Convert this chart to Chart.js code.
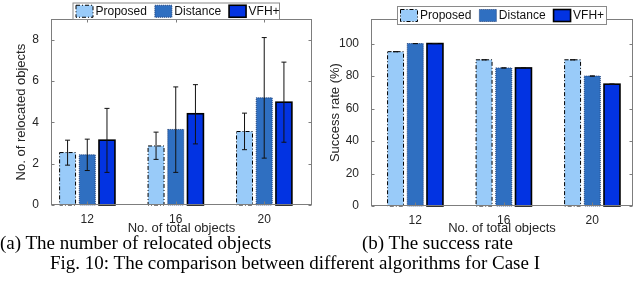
<!DOCTYPE html>
<html>
<head>
<meta charset="utf-8">
<script src="https://cdn.jsdelivr.net/npm/chart.js@4.4.1/dist/chart.umd.min.js"></script>
<style>
  body { margin: 0; background: #fff; width: 638px; height: 290px; overflow: hidden; position: relative; }
  .panel { position: absolute; top: 0; }
  .cap { position: absolute; font-family: "Liberation Serif", "Times New Roman", serif; font-size: 19px; color: #000; white-space: nowrap; }
</style>
</head>
<body>
<div class="panel" style="left:0;width:318px;height:236px"><canvas id="relocChart"></canvas></div>
<div class="panel" style="left:318px;width:320px;height:236px"><canvas id="successChart"></canvas></div>
<div class="cap" style="left:0;top:232px">(a) The number of relocated objects</div>
<div class="cap" style="left:362px;top:232px">(b) The success rate</div>
<div class="cap" style="left:50px;top:252px">Fig. 10: The comparison between different algorithms for Case I</div>

<script>
const categories = ["12", "16", "20"];
const categoryPos = [1, 2, 3];
const seriesNames = ["Proposed", "Distance", "VFH+"];

// (a) number of relocated objects, mean + error bar ends
const relocProposed = [2.54, 2.86, 3.56];
const relocDistance = [2.43, 3.66, 5.19];
const relocVFH = [3.14, 4.42, 4.98];
const relocProposedLow = [1.93, 2.21, 2.68];
const relocProposedHigh = [3.14, 3.53, 4.45];
const relocDistanceLow = [1.67, 1.58, 2.27];
const relocDistanceHigh = [3.19, 5.72, 8.11];
const relocVFHLow = [1.58, 2.96, 3.04];
const relocVFHHigh = [4.68, 5.83, 6.92];
const relocTicks = [0, 2, 4, 6, 8];

// (b) success rate (%)
const successProposed = [95, 90, 90];
const successDistance = [100, 85, 80];
const successVFH = [100, 85, 75];
const successTicks = [0, 20, 40, 60, 80, 100];

const FONT = '"Liberation Sans", Arial, Helvetica, sans-serif';
const TEXT = "#262626";

// look of each series (matlab-ish edges)
const styles = [
  { bg: "#99cbf9", edge: "#000000", width: 1, dash: [4, 2, 1, 2] },
  { bg: "#2f6fc1", edge: "#1d3f78", width: 1, dash: [1, 1] },
  { bg: "#0233e2", edge: "#000000", width: 1.6, dash: [] },
];

const toPoints = (vals) => vals.map((v, i) => ({ x: categoryPos[i], y: v }));

const makeDatasets = (series, lows, highs) =>
  series.map((vals, k) => ({
    label: seriesNames[k],
    data: toPoints(vals),
    backgroundColor: styles[k].bg,
    borderWidth: 0,
    edgeColor: styles[k].edge,
    edgeWidth: styles[k].width,
    edgeDash: styles[k].dash,
    errLow: lows[k],
    errHigh: highs[k],
  }));

// bar outlines + error bars, drawn from the bar elements
const barExtras = {
  id: "barExtras",
  afterDatasetsDraw(chart) {
    const ctx = chart.ctx;
    const y = chart.scales.y;
    chart.data.datasets.forEach((ds, i) => {
      const meta = chart.getDatasetMeta(i);
      meta.data.forEach((bar, j) => {
        const left = bar.x - bar.width / 2;
        ctx.save();
        ctx.strokeStyle = ds.edgeColor;
        ctx.lineWidth = ds.edgeWidth;
        ctx.setLineDash(ds.edgeDash);
        ctx.strokeRect(left, bar.y, bar.width, bar.base - bar.y);
        ctx.restore();

        const yLo = y.getPixelForValue(ds.errLow[j]);
        const yHi = y.getPixelForValue(ds.errHigh[j]);
        ctx.save();
        ctx.strokeStyle = "#111";
        ctx.lineWidth = 1;
        ctx.beginPath();
        ctx.moveTo(bar.x, yLo);
        ctx.lineTo(bar.x, yHi);
        ctx.moveTo(bar.x - 2.5, yLo);
        ctx.lineTo(bar.x + 2.5, yLo);
        ctx.moveTo(bar.x - 2.5, yHi);
        ctx.lineTo(bar.x + 2.5, yHi);
        ctx.stroke();
        ctx.restore();
      });
    });
  },
};

// axes box with inward ticks and the boxed legend
const boxAndLegend = {
  id: "boxAndLegend",
  afterDraw(chart, args, opts) {
    const { ctx, chartArea: a, scales } = chart;
    const L = Math.round(a.left) + 0.5, R = Math.round(a.right) - 0.5;
    const T = Math.round(a.top) + 0.5, B = Math.round(a.bottom) - 0.5;
    ctx.save();
    ctx.strokeStyle = "#7d7d7d";
    ctx.lineWidth = 1;
    ctx.strokeRect(L, T, R - L, B - T);
    ctx.beginPath();
    scales.y.ticks.forEach((t) => {
      const py = Math.round(scales.y.getPixelForValue(t.value)) + 0.5;
      ctx.moveTo(L, py); ctx.lineTo(L + 3, py);
      ctx.moveTo(R, py); ctx.lineTo(R - 3, py);
    });
    scales.x.ticks.forEach((t) => {
      const px = Math.round(scales.x.getPixelForValue(t.value)) + 0.5;
      ctx.moveTo(px, B); ctx.lineTo(px, B - 3);
      ctx.moveTo(px, T); ctx.lineTo(px, T + 3);
    });
    ctx.stroke();

    // legend
    const box = opts.box;
    ctx.fillStyle = "#fff";
    ctx.fillRect(box.x, box.y, box.w, box.h);
    ctx.strokeStyle = "#8a8a8a";
    ctx.strokeRect(box.x + 0.5, box.y + 0.5, box.w, box.h);
    ctx.font = "12px " + FONT;
    ctx.textBaseline = "middle";
    const cy = box.y + box.h / 2 + 0.5;
    let x = box.x + 3.5;
    chart.data.datasets.forEach((ds) => {
      ctx.fillStyle = ds.backgroundColor;
      ctx.fillRect(x, cy - 6, 17, 12);
      ctx.save();
      ctx.strokeStyle = ds.edgeColor;
      ctx.lineWidth = ds.edgeWidth;
      ctx.setLineDash(ds.edgeDash);
      ctx.strokeRect(x, cy - 6, 17, 12);
      ctx.restore();
      x += 19.5;
      ctx.fillStyle = "#111";
      ctx.fillText(ds.label, x, cy);
      x += ctx.measureText(ds.label).width + 8;
    });
    ctx.restore();
  },
};

function makeChart(id, datasets, cfg) {
  return new Chart(document.getElementById(id), {
    type: "bar",
    data: { datasets },
    plugins: [barExtras, boxAndLegend],
    options: {
      responsive: true,
      maintainAspectRatio: false,
      animation: false,
      events: [],
      layout: { padding: { top: 2, right: cfg.padRight, left: 0, bottom: 0 } },
      categoryPercentage: 0.668,
      barPercentage: 0.81,
      plugins: {
        legend: { display: false },
        tooltip: { enabled: false },
        boxAndLegend: { box: cfg.legendBox },
      },
      scales: {
        x: {
          type: "linear",
          offset: false,
          min: cfg.xMin,
          max: cfg.xMax,
          grid: { display: false, drawTicks: false },
          border: { display: false },
          afterBuildTicks: (s) => { s.ticks = categoryPos.map((v) => ({ value: v })); },
          afterFit: (s) => { s.height = cfg.xHeight; },
          ticks: {
            padding: 7,
            maxRotation: 0,
            color: TEXT,
            font: { family: FONT, size: 12 },
            callback: (v) => categories[categoryPos.indexOf(v)],
          },
          title: {
            display: true,
            text: "No. of total objects",
            color: TEXT,
            font: { family: FONT, size: 13 },
            padding: { top: 0, bottom: 0 },
          },
        },
        y: {
          min: 0,
          max: cfg.yMax,
          grid: { display: false, drawTicks: false },
          border: { display: false },
          afterBuildTicks: (s) => { s.ticks = cfg.yTicks.map((v) => ({ value: v })); },
          afterFit: (s) => { s.width = cfg.yWidth; },
          ticks: {
            padding: 12,
            color: TEXT,
            font: { family: FONT, size: 12 },
          },
          title: {
            display: true,
            text: cfg.yTitle,
            color: TEXT,
            font: { family: FONT, size: 13 },
            padding: { top: cfg.yTitlePad, bottom: 0 },
          },
        },
      },
    },
  });
}

makeChart(
  "relocChart",
  makeDatasets(
    [relocProposed, relocDistance, relocVFH],
    [relocProposedLow, relocDistanceLow, relocVFHLow],
    [relocProposedHigh, relocDistanceHigh, relocVFHHigh]
  ),
  {
    yMax: 9, yTicks: relocTicks, yTitle: "No. of relocated objects",
    xMin: 0.59, xMax: 3.54, yWidth: 51, xHeight: 31, padRight: 6, yTitlePad: 14,
    legendBox: { x: 72.5, y: 2.5, w: 206.5, h: 16.5 },
  }
);

makeChart(
  "successChart",
  makeDatasets(
    [successProposed, successDistance, successVFH],
    [successProposed, successDistance, successVFH],
    [successProposed, successDistance, successVFH]
  ),
  {
    yMax: 115, yTicks: successTicks, yTitle: "Success rate (%)",
    xMin: 0.5, xMax: 3.46, yWidth: 53, xHeight: 30, padRight: 5, yTitlePad: 10,
    legendBox: { x: 79, y: 6, w: 209, h: 18 },
  }
);
</script>
</body>
</html>
